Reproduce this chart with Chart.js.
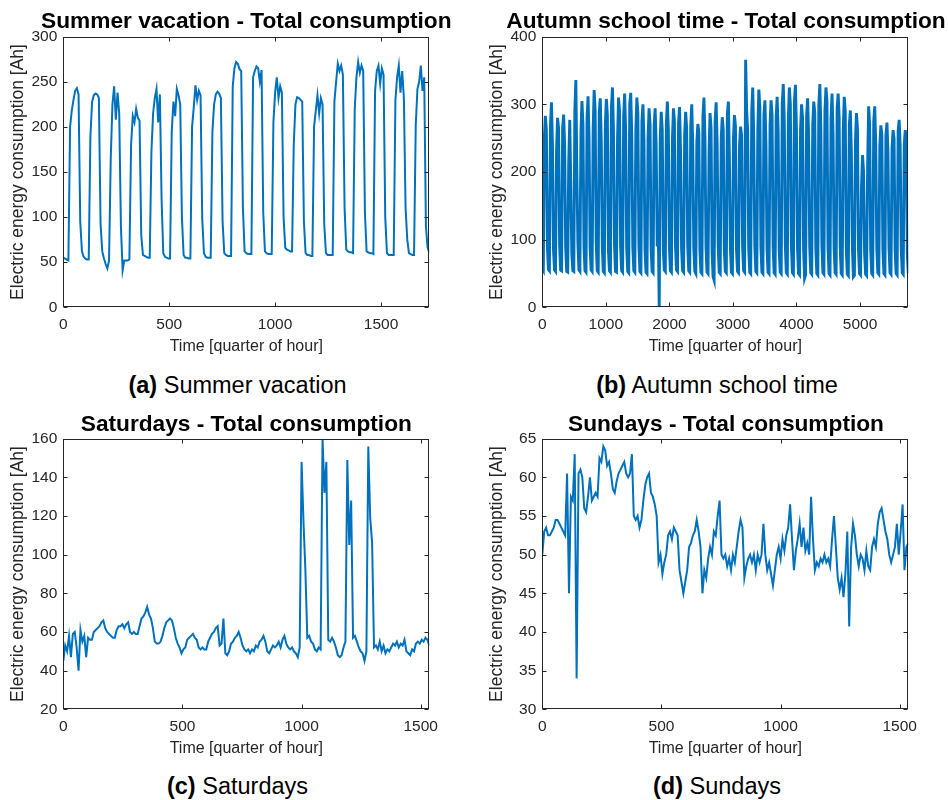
<!DOCTYPE html>
<html>
<head>
<meta charset="utf-8">
<title>Total consumption</title>
<script src="https://cdn.jsdelivr.net/npm/chart.js@4.4.1/dist/chart.umd.min.js"></script>
<style>
  html, body { margin: 0; padding: 0; background: #fff; overflow: hidden; }
  body { width: 949px; height: 800px; position: relative; font-family: Arial, "Liberation Sans", Helvetica, sans-serif; }
  canvas { position: absolute; }
  .title { position: absolute; width: 500px; text-align: center; font-size: 22.7px; font-weight: bold; line-height: 1; color: #000; white-space: nowrap; }
  .caption { position: absolute; width: 470px; text-align: center; font-size: 23.5px; line-height: 1; color: #000; white-space: nowrap; }
</style>
</head>
<body>
<canvas id="summer" width="470" height="360" style="left:0px;top:0px"></canvas>
<canvas id="autumn" width="470" height="360" style="left:479.4px;top:0px"></canvas>
<canvas id="saturday" width="470" height="360" style="left:0px;top:402.3px"></canvas>
<canvas id="sunday" width="470" height="360" style="left:479.4px;top:402.3px"></canvas>
<div class="title" style="left:-3.7px;top:9.2px">Summer vacation - Total consumption</div>
<div class="title" style="left:476px;top:9.2px">Autumn school time - Total consumption</div>
<div class="title" style="left:-3.7px;top:411.5px">Saturdays - Total consumption</div>
<div class="title" style="left:476px;top:411.5px">Sundays - Total consumption</div>
<div class="caption" style="left:2.5px;top:373.5px"><b>(a)</b> Summer vacation</div>
<div class="caption" style="left:482px;top:373.5px"><b>(b)</b> Autumn school time</div>
<div class="caption" style="left:2.5px;top:775.2px"><b>(c)</b> Saturdays</div>
<div class="caption" style="left:482px;top:775.2px"><b>(d)</b> Sundays</div>
<script>
// sampling steps, in quarters of hour
const SUMMER_STEP = 8;
const AUTUMN_STEP = 16;
const WEEKEND_STEP = 8;

// summer vacation, 18 days, 12 samples per day
const summerValues = [
  55,54,53,52,200,218,230,240,243,236,95,62,
  56,54,53,53,190,228,235,237,236,232,92,62,
  54,48,43,52,165,225,245,208,238,215,90,41,
  52,52,52,53,180,212,205,220,210,207,80,58,
  57,56,55,55,172,215,232,242,205,236,120,60,
  56,55,54,54,195,228,212,242,235,225,100,58,
  55,55,54,54,200,222,246,230,240,235,98,60,
  56,55,55,55,195,225,236,239,237,232,95,60,
  58,57,57,57,245,265,272,270,264,262,110,62,
  60,59,59,59,255,262,267,265,250,263,105,62,
  60,59,59,59,205,238,255,232,245,238,100,66,
  64,63,62,62,180,225,233,232,230,228,95,60,
  58,58,57,57,200,218,235,215,232,225,92,60,
  58,58,58,58,228,250,270,262,268,258,110,64,
  62,61,61,60,220,255,272,260,268,262,105,62,
  61,60,60,59,240,262,268,248,265,258,100,60,
  58,58,58,58,230,255,268,238,262,232,110,75,
  60,59,58,58,202,242,250,268,240,255,90,66,
  61
];

// autumn school time, 60 days, 6 samples per day
const autumnValues = [
  58,55,250,283,262,90,  56,54,268,303,240,85,
  55,53,232,280,265,92,  55,54,265,285,238,88,
  53,52,215,277,185,80,  54,53,290,336,200,95,
  55,53,258,305,270,90,  54,52,280,312,250,88,
  55,53,262,321,290,95,  54,52,288,309,245,90,
  53,51,270,308,285,85,  54,52,295,325,262,92,
  53,52,250,310,290,90,  54,52,282,316,260,88,
  53,51,300,317,255,90,  54,52,262,310,288,92,
  53,51,275,300,248,85,  52,50,250,294,270,88,
  53,51,268,294,240,90,  120,0,250,289,262,85,
  55,53,270,304,262,88,  54,52,248,294,275,90,
  55,53,272,296,230,85,  54,52,255,289,265,92,
  54,52,268,300,240,88,  53,50,245,271,258,85,
  52,50,282,310,250,90,  52,50,230,287,265,80,
  45,40,275,303,240,90,  52,50,250,281,262,85,
  53,51,285,304,225,88,  52,50,250,284,268,85,
  53,51,240,267,255,90,  54,52,366,291,262,88,
  52,50,290,325,250,92,  53,51,265,322,295,90,
  52,50,285,306,240,88,  52,50,270,306,285,90,
  51,49,280,311,260,85,  52,50,300,330,278,92,
  51,49,278,325,300,90,  51,49,305,329,262,88,
  50,48,262,300,280,85,  43,48,285,309,250,90,
  51,49,270,304,288,88,  50,48,300,330,265,92,
  51,49,290,325,305,90,  50,48,280,316,255,88,
  51,49,295,316,280,90,  50,48,262,311,290,85,
  49,47,270,291,230,88,  45,47,245,287,265,85,
  50,48,180,225,200,80,  49,47,210,297,270,85,
  50,48,275,297,240,88,  51,49,240,269,255,85,
  50,48,255,273,230,88,  51,49,235,262,250,85,
  50,48,260,277,240,88,  51,49,240,262,250,80,
  50
];

// saturdays, 16 days
const saturdayValues = [
  45,53,50,58,47,59,60,52,40,61,55,58,47,57,56,56,
  60,61,62,63,65,66,62,60,59,58,57,57,61,63,63,64,
  62,64,65,60,59,60,59,59,63,67,68,70,73,69,67,62,
  55,54,54,55,58,62,65,66,67,66,62,57,54,52,49,51,
  52,56,57,58,59,57,56,52,51,52,51,51,55,57,59,60,
  62,63,53,54,67,49,48,50,54,55,57,58,60,57,53,51,
  50,51,49,51,50,53,52,55,56,58,55,50,49,51,53,52,
  53,55,52,56,58,54,52,51,52,50,49,47,52,148,117,92,
  57,58,55,54,51,50,52,51,160,132,148,56,55,57,55,52,
  48,47,48,52,55,149,105,128,57,58,55,52,50,49,45,50,
  156,119,106,52,53,51,55,50,53,49,51,50,52,54,53,55,
  52,54,53,56,50,49,48,51,50,54,55,54,56,55,57,56,
  53
];

// sundays, 16 days
const sundayValues = [
  50,53,53.5,52.5,52.5,53,53.5,54.5,54.5,54,53.5,53,52.5,60.5,45,57.5,
  57,63,34,60.5,61,60,56,55.5,57.5,60,57,57.5,58,57.5,62.5,62,
  64,63.5,61.5,62,60.5,58.5,58,59.5,60.5,61,61.5,62,60.5,60,60.5,63,
  55,54.5,55,53.5,54.5,57,59,60,60.5,58,57.5,56.5,55,49,50,47.5,
  49,50,52.5,53,52,53.5,53,52.5,48,46.5,45,46.5,48,51,51.5,52.5,
  53,54.5,53,51,45,48,47,49.5,51,50,53,52.5,55,57,50,49.5,
  50,48.5,49.5,48,50,49,51,53,54.5,53.5,47,48.5,49.5,50,49,50,
  48,50,49,50,54,50,48,49,47.5,46,48,50,51,49.5,52,50.5,
  52.5,53.5,56.5,52,48,50.5,52,54,51,53.5,50.5,51.5,50,57.5,52,48,
  49,48.5,49.5,49,50,49,49.5,48.5,52,55,51,47,45.5,47,44.5,47.5,
  53,40.7,51,54,52.5,50,48.5,50,49.5,48,50.5,48.5,48,51,52,51,
  54,55.5,56,54.5,53,52,50,49,50,51,54,50,53,56.5,48,51,
  51.5
];

// axis ticks
const summerXTicks = [0, 500, 1000, 1500];
const summerYTicks = [0, 50, 100, 150, 200, 250, 300];
const autumnXTicks = [0, 1000, 2000, 3000, 4000, 5000];
const autumnYTicks = [0, 100, 200, 300, 400];
const weekendXTicks = [0, 500, 1000, 1500];
const saturdayYTicks = [20, 40, 60, 80, 100, 120, 140, 160];
const sundayYTicks = [30, 35, 40, 45, 50, 55, 60, 65];

const FONT = 'Arial, "Liberation Sans", Helvetica, sans-serif';
const AXIS_COLOR = '#262626';
const LINE_COLOR = '#0072BD';
const Y_LABEL = 'Electric energy consumption [Ah]';
const X_LABEL = 'Time [quarter of hour]';

Chart.defaults.font.family = FONT;

// matlab style box with inward ticks
const axesBox = {
  id: 'axesBox',
  afterDatasetsDraw(chart) {
    const { ctx, chartArea: a, scales } = chart;
    const L = Math.round(a.left) + 0.5, R = Math.round(a.right) - 0.5;
    const T = Math.round(a.top) + 0.5, B = Math.round(a.bottom) - 0.5;
    ctx.save();
    ctx.strokeStyle = AXIS_COLOR;
    ctx.lineWidth = 1;
    ctx.strokeRect(L, T, R - L, B - T);
    ctx.beginPath();
    scales.x.ticks.forEach(t => {
      const px = Math.round(scales.x.getPixelForValue(t.value)) + 0.5;
      ctx.moveTo(px, B); ctx.lineTo(px, B - 4);
      ctx.moveTo(px, T); ctx.lineTo(px, T + 4);
    });
    scales.y.ticks.forEach(t => {
      const py = Math.round(scales.y.getPixelForValue(t.value)) + 0.5;
      ctx.moveTo(L, py); ctx.lineTo(L + 4, py);
      ctx.moveTo(R, py); ctx.lineTo(R - 4, py);
    });
    ctx.stroke();
    ctx.restore();
  }
};

function makePanel(id, step, values, xMax, xTicks, yTicks, lineWidth) {
  const points = values.map((v, i) => ({ x: i * step, y: v }));
  new Chart(document.getElementById(id), {
    type: 'line',
    data: {
      datasets: [{
        data: points,
        borderColor: LINE_COLOR,
        borderWidth: lineWidth,
        pointRadius: 0,
        tension: 0,
        fill: false
      }]
    },
    options: {
      responsive: false,
      animation: false,
      events: [],
      layout: { padding: { left: 0, right: 40.7, top: 36.7, bottom: 0 } },
      plugins: {
        legend: { display: false },
        tooltip: { enabled: false },
        title: { display: false }
      },
      scales: {
        x: {
          type: 'linear',
          min: 0,
          max: xMax,
          grid: { display: false, drawTicks: false },
          border: { display: false },
          ticks: { color: AXIS_COLOR, font: { size: 15.5 }, padding: 8, maxRotation: 0, callback: v => String(v) },
          title: { display: true, text: X_LABEL, color: AXIS_COLOR, font: { size: 16 }, padding: { top: 0, bottom: 3.7 } },
          afterBuildTicks: s => { s.ticks = xTicks.map(v => ({ value: v })); },
          afterFit: s => { s.height = 52.7; }
        },
        y: {
          type: 'linear',
          min: yTicks[0],
          max: yTicks[yTicks.length - 1],
          grid: { display: false, drawTicks: false },
          border: { display: false },
          ticks: { color: AXIS_COLOR, font: { size: 15.5 }, padding: 6, callback: v => String(v) },
          title: { display: true, text: Y_LABEL, color: AXIS_COLOR, font: { size: 17.5 }, padding: { top: 7.8, bottom: 0 } },
          afterBuildTicks: s => { s.ticks = yTicks.map(v => ({ value: v })); },
          afterFit: s => { s.width = 63.3; }
        }
      }
    },
    plugins: [axesBox]
  });
}

makePanel('summer', SUMMER_STEP, summerValues, 1728, summerXTicks, summerYTicks, 2);
makePanel('autumn', AUTUMN_STEP, autumnValues, 5760, autumnXTicks, autumnYTicks, 2.9);
makePanel('saturday', WEEKEND_STEP, saturdayValues, 1536, weekendXTicks, saturdayYTicks, 2);
makePanel('sunday', WEEKEND_STEP, sundayValues, 1536, weekendXTicks, sundayYTicks, 2);
</script>
</body>
</html>
